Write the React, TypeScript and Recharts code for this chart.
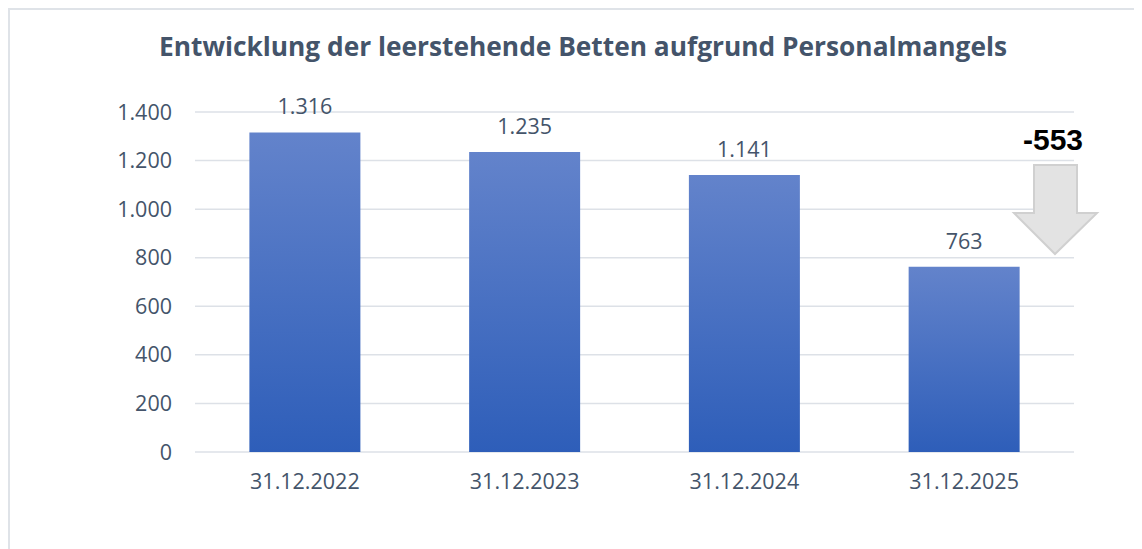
import React from "react";
import { BarChart, Bar, XAxis, YAxis, CartesianGrid, LabelList } from "recharts";

const categories = ["31.12.2022", "31.12.2023", "31.12.2024", "31.12.2025"];
const values = [1316, 1235, 1141, 763];
const yTicks = [0, 200, 400, 600, 800, 1000, 1200, 1400];
const title = "Entwicklung der leerstehende Betten aufgrund Personalmangels";

const data = categories.map((c, i) => ({ name: c, value: values[i] }));
const fmt = (v: number) => v.toLocaleString("de-DE");
const change = values[values.length - 1] - values[0];

const TXT = "#44546A";
const FONT = "'Open Sans', sans-serif";
const FS = 21.5;

export default function App() {
  return (
    <div
      style={{
        position: "relative",
        width: 1150,
        height: 560,
        border: "2px solid #dfe3e8",
        boxSizing: "border-box",
        background: "#fff",
        fontFamily: FONT,
      }}
    >
      <div
        style={{
          position: "absolute",
          left: 0,
          top: 18,
          width: 1146,
          textAlign: "center",
          fontFamily: FONT,
          fontWeight: 700,
          fontSize: 26.3,
          color: TXT,
        }}
      >
        {title}
      </div>
      <BarChart
        width={1146}
        height={556}
        data={data}
        margin={{ top: 102, right: 82, bottom: 84, left: 125 }}
        barCategoryGap="24.75%"
      >
        <defs>
          <linearGradient id="barGrad" x1="0" y1="0" x2="0" y2="1">
            <stop offset="0%" stopColor="#6383CB" />
            <stop offset="100%" stopColor="#2E5EB9" />
          </linearGradient>
        </defs>
        <CartesianGrid vertical={false} stroke="#dde1e7" strokeWidth={1.5} />
        <XAxis
          dataKey="name"
          axisLine={false}
          tickLine={false}
          tickSize={0}
          tickMargin={22}
          height={30}
          tick={{ fill: TXT, fontSize: FS, fontFamily: FONT }}
        />
        <YAxis
          domain={[0, 1400]}
          ticks={yTicks}
          axisLine={false}
          tickLine={false}
          tickSize={0}
          tickMargin={23}
          width={60}
          tickFormatter={fmt}
          tick={{ fill: TXT, fontSize: FS, fontFamily: FONT }}
        />
        <Bar dataKey="value" fill="url(#barGrad)" isAnimationActive={false}>
          <LabelList
            dataKey="value"
            position="top"
            offset={18}
            formatter={(v: any) => fmt(Number(v))}
            style={{ fill: TXT, fontSize: FS, fontFamily: FONT }}
          />
        </Bar>
      </BarChart>
      <svg
        width={1146}
        height={556}
        style={{ position: "absolute", left: 0, top: 0, pointerEvents: "none" }}
      >
        <polygon
          points="1024,155 1067,155 1067,203 1087,203 1045,244 1004,203 1024,203"
          fill="#e3e3e3"
          stroke="#d0d0d0"
          strokeWidth={2}
        />
        <text
          x={1043}
          y={140}
          textAnchor="middle"
          fontFamily="'Liberation Sans', Arial, sans-serif"
          fontWeight={700}
          fontSize={30}
          fill="#000"
        >
          {fmt(change)}
        </text>
      </svg>
    </div>
  );
}
